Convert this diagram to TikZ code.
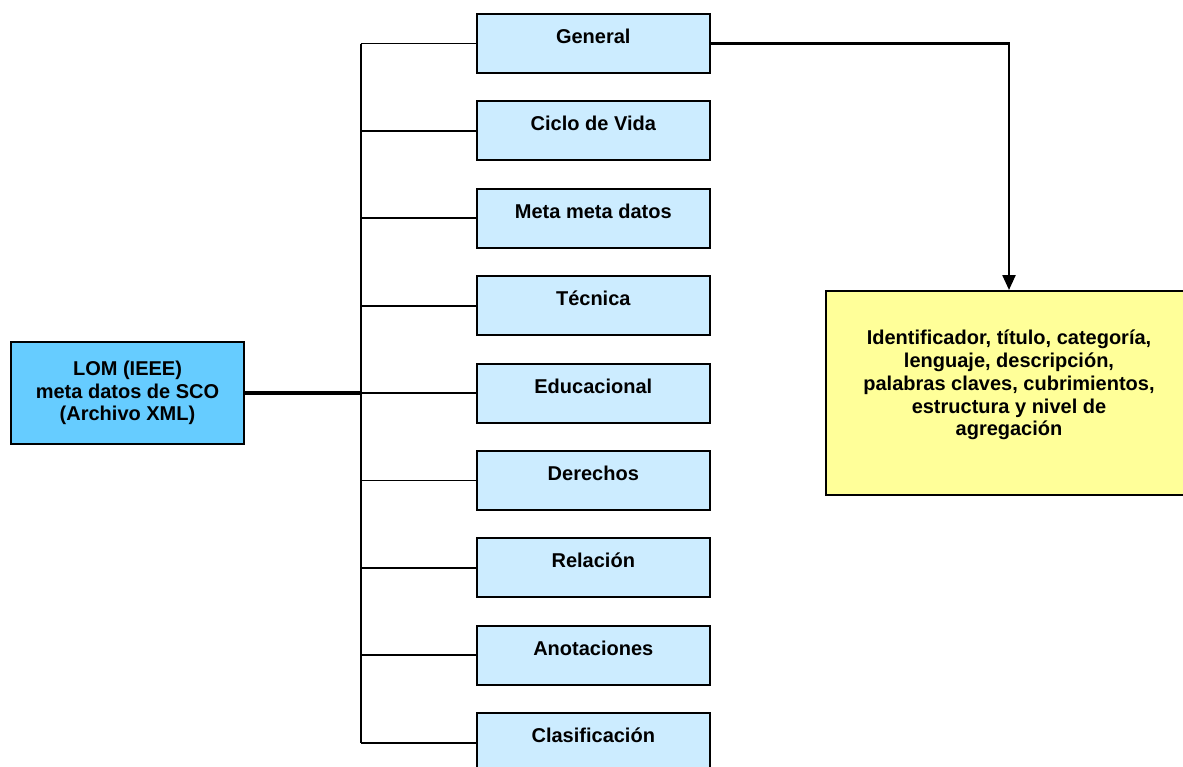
\documentclass[tikz,border=0pt]{standalone}
\usepackage{fontspec}
\setmainfont{Liberation Sans}
\usetikzlibrary{arrows.meta}
\definecolor{lomblue}{HTML}{66CCFF}
\definecolor{partblue}{HTML}{CCECFF}
\definecolor{notecol}{HTML}{FFFF99}
\begin{document}
\begin{tikzpicture}[x=1pt,y=-1pt,
  every node/.style={font=\fontsize{20}{22.8}\selectfont\bfseries},
  rootbox/.style={draw=black,line width=2pt,fill=lomblue,minimum width=233pt,minimum height=102pt,align=center,inner sep=0pt},
  partbox/.style={draw=black,line width=2pt,fill=partblue,minimum width=233.5pt,minimum height=59pt,inner sep=0pt,text height=14pt,text depth=14pt},
  notebox/.style={draw=black,line width=2pt,fill=notecol,minimum width=366pt,minimum height=204pt,inner sep=0pt},
  branch/.style={line width=1.8pt},
  trunkline/.style={line width=2pt},
  rootline/.style={line width=3.2pt},
  linkarrow/.style={line width=2.4pt,-{Triangle[length=15pt,width=13pt]}}
]
\useasboundingbox (0,0) rectangle (1183,766);

% root of the tree
\node[rootbox] (lom) at (127.5,393) {LOM (IEEE)\\meta datos de SCO\\(Archivo XML)};

% the nine metadata categories
\node[partbox] (gen)  at (593.3,43.5)  {General};
\node[partbox] (cic)  at (593.3,130.9) {Ciclo de Vida};
\node[partbox] (meta) at (593.3,218.3) {Meta meta datos};
\node[partbox] (tec)  at (593.3,305.7) {Técnica};
\node[partbox] (edu)  at (593.3,393.1) {Educacional};
\node[partbox] (der)  at (593.3,480.5) {Derechos};
\node[partbox] (rel)  at (593.3,567.9) {Relación};
\node[partbox] (ano)  at (593.3,655.3) {Anotaciones};
\node[partbox] (cla)  at (593.3,742.7) {Clasificación};

% detail note for the General category
\node[notebox] (note) at (1009,393) {};
\node[align=center,inner sep=0pt] (notetext) at ([yshift=8pt]note.center)
  {Identificador, título, categoría,\\lenguaje, descripción,\\palabras claves, cubrimientos,\\estructura y nivel de\\agregación};

% vertical trunk of the tree
\coordinate (tr) at (360.5,0);
\draw[trunkline] (gen.west -| tr) -- (cla.west -| tr);
\draw[rootline] (lom.east) -- (lom.east -| tr);
\foreach \n in {gen,cic,meta,tec,edu,der,rel,ano,cla}
  \draw[branch] (\n.west -| tr) -- (\n.west);

% link from General to its note
\draw[linkarrow] (gen.east) -| (note.north);
\end{tikzpicture}
\end{document}
